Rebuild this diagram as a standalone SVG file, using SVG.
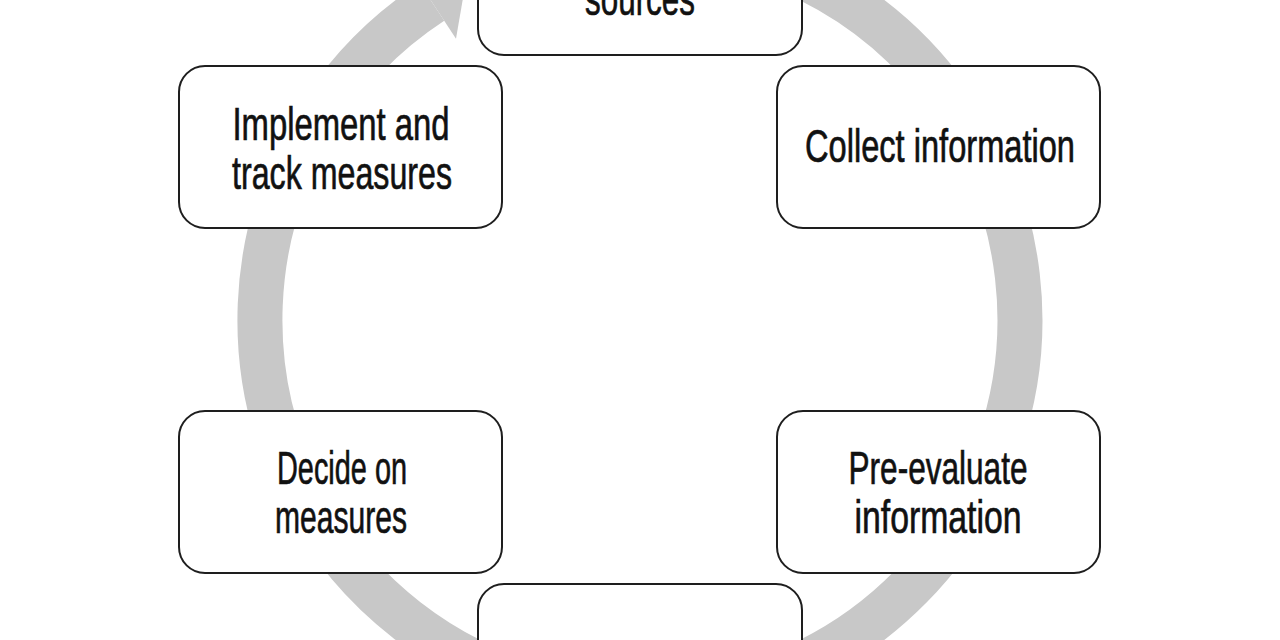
<svg xmlns="http://www.w3.org/2000/svg" width="1280" height="640" viewBox="0 0 1280 640">
  <style>
    .box { fill: #ffffff; stroke: #1e1e1e; stroke-width: 2; }
    .lbl { font-family: "Liberation Sans", Arial, sans-serif; font-size: 47px; fill: #111111; stroke: #111111; stroke-width: 0.7; text-anchor: middle; }
    .ring { fill: none; stroke: #c8c8c8; stroke-width: 45; }
    .head { fill: #c8c8c8; }
  </style>
  <rect width="1280" height="640" fill="#ffffff"/>
  <g id="connectors">
    <path class="ring" d="M 640 -60 A 380 380 0 1 1 431.9 2.0"/>
    <polygon class="head" points="456.0,38.8 407.8,-34.8 465.7,-17.7"/>
  </g>
  <g id="node-sources">
    <rect class="box" x="478" y="-107" width="324" height="162" rx="26"/>
    <text class="lbl" x="640" y="15" textLength="110" lengthAdjust="spacingAndGlyphs">sources</text>
  </g>
  <g id="node-collect">
    <rect class="box" x="777" y="66" width="323" height="162" rx="26"/>
    <text class="lbl" x="940" y="162" textLength="270" lengthAdjust="spacingAndGlyphs">Collect information</text>
  </g>
  <g id="node-preevaluate">
    <rect class="box" x="777" y="411" width="323" height="162" rx="26"/>
    <text class="lbl" x="938" y="484" textLength="179" lengthAdjust="spacingAndGlyphs">Pre-evaluate</text>
    <text class="lbl" x="938" y="533" textLength="167" lengthAdjust="spacingAndGlyphs">information</text>
  </g>
  <g id="node-bottom">
    <rect class="box" x="478" y="584" width="324" height="162" rx="26"/>
  </g>
  <g id="node-decide">
    <rect class="box" x="179" y="411" width="323" height="162" rx="26"/>
    <text class="lbl" x="342" y="484" textLength="130" lengthAdjust="spacingAndGlyphs">Decide on</text>
    <text class="lbl" x="341" y="533" textLength="132" lengthAdjust="spacingAndGlyphs">measures</text>
  </g>
  <g id="node-implement">
    <rect class="box" x="179" y="66" width="323" height="162" rx="26"/>
    <text class="lbl" x="341" y="140" textLength="217" lengthAdjust="spacingAndGlyphs">Implement and</text>
    <text class="lbl" x="342" y="189" textLength="220" lengthAdjust="spacingAndGlyphs">track measures</text>
  </g>
</svg>
